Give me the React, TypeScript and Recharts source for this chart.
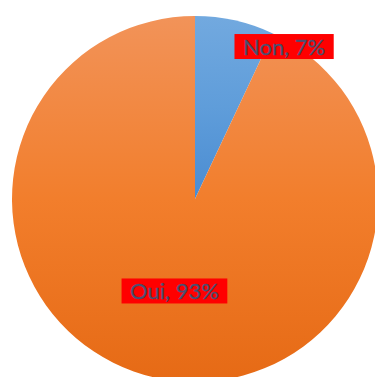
import React from "react";
import { PieChart, Pie, Cell } from "recharts";

const categories = ["Non", "Oui"];
const values = [7, 93];
const gradients = [
  ["#72A9DF", "#5F9DDA", "#4A8CD2"],
  ["#F29359", "#F27E2C", "#E66A15"],
];

const data = categories.map((name, i) => ({ name, value: values[i] }));

const FONT = "22px Lato";
let ctx: CanvasRenderingContext2D | null = null;
function measure(t: string): number {
  if (!ctx) ctx = document.createElement("canvas").getContext("2d");
  if (!ctx) return t.length * 11;
  ctx.font = FONT;
  return ctx.measureText(t).width;
}

const RAD = Math.PI / 180;

function renderLabel(props: any) {
  const { cx, cy, midAngle, outerRadius, percent, name } = props;
  const text = `${name}, ${Math.round(percent * 100)}%`;
  let r: number;
  let ang: number;
  if (percent < 0.1) {
    r = outerRadius * 0.965;
    ang = midAngle - 17.7;
  } else {
    r = outerRadius * 0.515;
    ang = midAngle;
  }
  const x = cx + r * Math.cos(-ang * RAD);
  const y = cy + r * Math.sin(-ang * RAD);
  const w = measure(text) + 17;
  const h = 25;
  return (
    <g>
      <rect x={x - w / 2} y={y - h / 2} width={w} height={h} fill="#FF0000" />
      <text
        x={x}
        y={y}
        textAnchor="middle"
        dominantBaseline="central"
        fontFamily="Lato"
        fontSize={22}
        fill="#4A5070"
        stroke="#4A5070"
        strokeWidth={0.3}
      >
        {text}
      </text>
    </g>
  );
}

export default function App() {
  return (
    <div style={{ position: "absolute", left: 0, top: 0 }}>
      <PieChart width={375} height={377} margin={{ top: 0, right: 0, bottom: 0, left: 0 }}>
        <defs>
          {gradients.map((g, i) => (
            <linearGradient key={i} id={`grad${i}`} x1="0" y1="0" x2="0" y2="1">
              <stop offset="0%" stopColor={g[0]} />
              <stop offset="50%" stopColor={g[1]} />
              <stop offset="100%" stopColor={g[2]} />
            </linearGradient>
          ))}
        </defs>
        <Pie
          data={data}
          dataKey="value"
          nameKey="name"
          cx={195}
          cy={199}
          outerRadius={183}
          startAngle={90}
          endAngle={-270}
          stroke="none"
          label={renderLabel}
          labelLine={false}
          isAnimationActive={false}
        >
          {data.map((d, i) => (
            <Cell key={d.name} fill={`url(#grad${i})`} />
          ))}
        </Pie>
      </PieChart>
    </div>
  );
}
